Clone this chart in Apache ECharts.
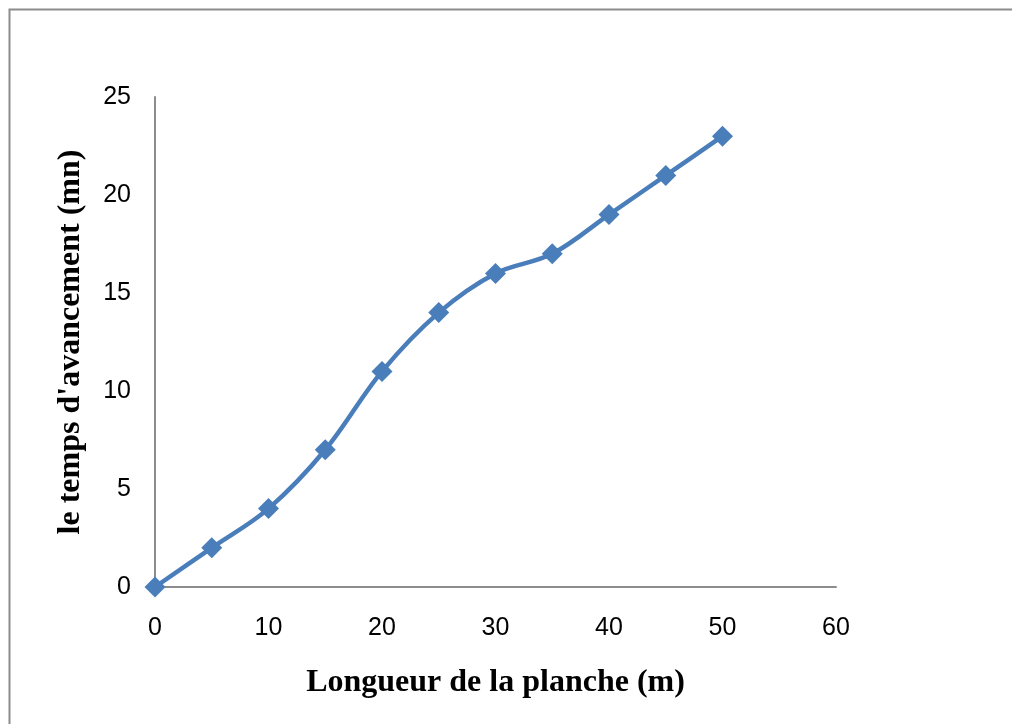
<!DOCTYPE html>
<html><head><meta charset="utf-8">
<script src="https://cdn.jsdelivr.net/npm/echarts@6/dist/echarts.min.js"></script>
<style>html,body{margin:0;padding:0;background:#fff}#c{width:1012px;height:724px}</style>
</head><body><div id="c"></div>
<script>
const xValues = [0, 5, 10, 15, 20, 25, 30, 35, 40, 45, 50];
const yValues = [0, 2, 4, 7, 11, 14, 16, 17, 19, 21, 23];
const xTitle = "Longueur de la planche (m)";
const yTitle = "le temps d'avancement (mn)";

const chart = echarts.init(document.getElementById('c'));
chart.setOption({
  animation: false,
  backgroundColor: '#fff',
  grid: { left: 155, top: 97, width: 681, height: 490, containLabel: false },
  graphic: [{
    type: 'rect', left: 7, top: 7, silent: true,
    shape: { width: 1030, height: 740 },
    style: { fill: 'none', stroke: '#8c8c8c', lineWidth: 2 }
  }],
  xAxis: {
    type: 'value', min: 0, max: 60, interval: 10,
    name: xTitle, nameLocation: 'middle', nameGap: 80,
    nameTextStyle: { fontFamily: 'Liberation Serif', fontWeight: 'bold', fontSize: 32, color: '#000' },
    axisLine: { show: true, lineStyle: { color: '#8c8c8c', width: 2 } },
    axisTick: { show: false },
    splitLine: { show: false },
    axisLabel: { fontFamily: 'Liberation Sans', fontSize: 25, color: '#000', margin: 29 }
  },
  yAxis: {
    type: 'value', min: 0, max: 25, interval: 5,
    name: yTitle, nameLocation: 'middle', nameGap: 68,
    nameTextStyle: { fontFamily: 'Liberation Serif', fontWeight: 'bold', fontSize: 32, color: '#000' },
    axisLine: { show: true, lineStyle: { color: '#8c8c8c', width: 2 } },
    axisTick: { show: false },
    splitLine: { show: false },
    axisLabel: { fontFamily: 'Liberation Sans', fontSize: 25, color: '#000', margin: 24 }
  },
  series: [{
    type: 'line',
    data: xValues.map((x, i) => [x, yValues[i]]),
    smooth: 0.35,
    symbol: 'diamond', symbolSize: 21,
    lineStyle: { color: '#4a7ebb', width: 4.5 },
    itemStyle: { color: '#4a7ebb' }
  }]
});
</script></body></html>
